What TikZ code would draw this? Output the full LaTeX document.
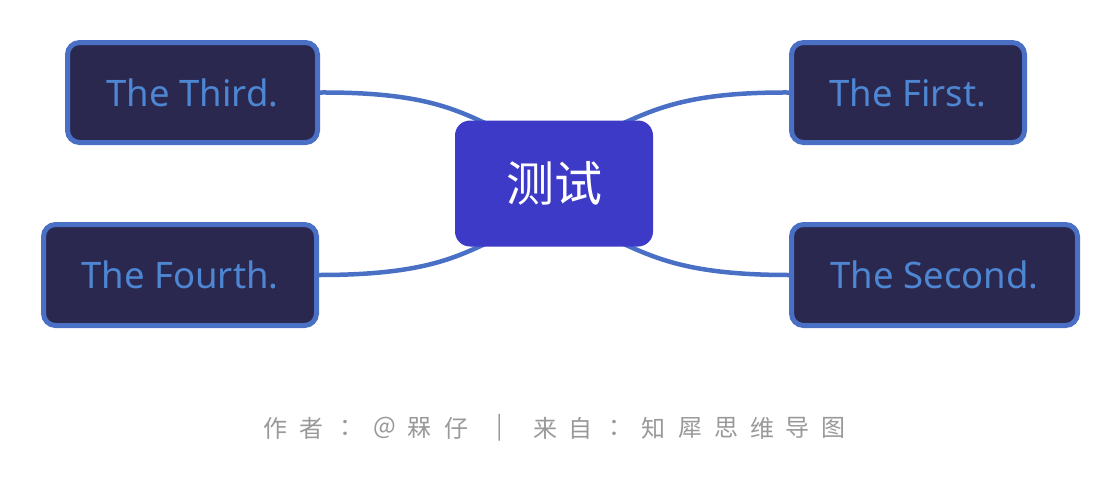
\documentclass[tikz,border=0pt]{standalone}
\usepackage{fontspec}
\setmainfont{Noto Sans}
\newfontfamily\cjk{Noto Sans CJK SC}
\usetikzlibrary{backgrounds}
\definecolor{bordc}{HTML}{4A70C6}
\definecolor{boxfill}{HTML}{2B2850}
\definecolor{boxtext}{HTML}{4D86D2}
\definecolor{rootfill}{HTML}{3D3AC7}
\definecolor{footc}{HTML}{999999}
\tikzset{
  leaf/.style={draw=bordc, line width=5pt, fill=boxfill, rounded corners=12pt,
    text=boxtext, font=\fontsize{36.5}{40}\selectfont, inner sep=0pt},
  rootbox/.style={fill=rootfill, rounded corners=15pt, text=white,
    font=\cjk\fontsize{48}{52}\selectfont, inner sep=0pt,
    minimum width=198pt, minimum height=126pt},
  conn/.style={draw=bordc, line width=4.5pt},
  foot/.style={text=footc, font=\cjk\fontsize{24}{26}\selectfont, inner sep=0pt}
}
\begin{document}
\begin{tikzpicture}[x=1pt,y=-1pt]
\useasboundingbox (0,0) rectangle (1120,488);
\node[rootbox] (root) at (554,183.5) {测试};
\node[leaf, minimum width=250pt, minimum height=100pt] (third) at (192.5,92.5) {The Third.};
\node[leaf, minimum width=233pt, minimum height=100pt] (first) at (908,92.5) {The First.};
\node[leaf, minimum width=273pt, minimum height=101pt] (fourth) at (180,275) {The Fourth.};
\node[leaf, minimum width=286pt, minimum height=101pt] (second) at (934.5,275) {The Second.};
\coordinate (rtl) at (500,130);
\coordinate (rtr) at (608,130);
\coordinate (rbl) at (500,237);
\coordinate (rbr) at (608,237);
\begin{scope}[on background layer]
\draw[conn] (third.east) .. controls (430,92) and (460,112) .. (rtl);
\draw[conn] (first.west) .. controls (680,92) and (650,112) .. (rtr);
\draw[conn] (fourth.east) .. controls (430,275) and (460,255) .. (rbl);
\draw[conn] (second.west) .. controls (680,275) and (650,255) .. (rbr);
\end{scope}
\foreach \ch/\xx [count=\i] in {作/275,者/311,：/351,@/385,槑/419,仔/456,|/500,来/545,自/580,：/620,知/653,犀/690,思/726,维/762,导/797,图/833}
  \node[foot] (f\i) at (\xx,428) {\ch};
\end{tikzpicture}
\end{document}
